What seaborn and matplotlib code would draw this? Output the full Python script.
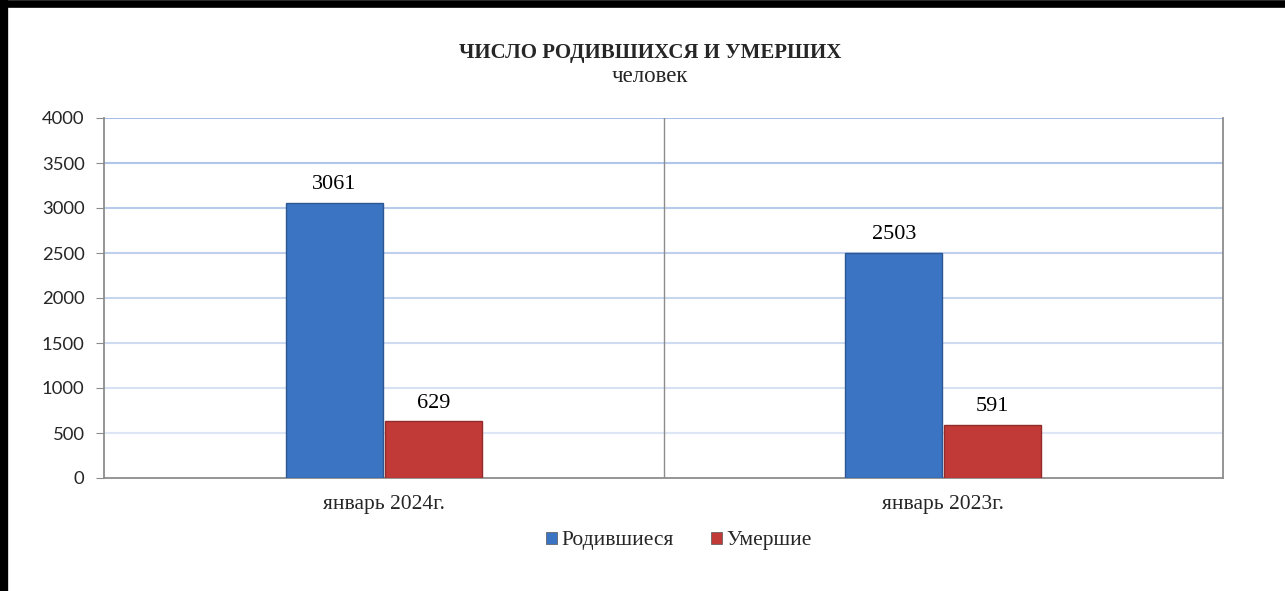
import pandas as pd
import numpy as np
import matplotlib.pyplot as plt
import seaborn as sns
from matplotlib.lines import Line2D

# data
periods = ["январь 2024г.", "январь 2023г."]
series = ["Родившиеся", "Умершие"]
born = [3061, 2503]
died = [629, 591]
y_ticks = [0, 500, 1000, 1500, 2000, 2500, 3000, 3500, 4000]

df = pd.DataFrame({
    "period": periods * 2,
    "series": [series[0]] * len(periods) + [series[1]] * len(periods),
    "value": born + died,
})

sns.set_style("white")
plt.rcParams['font.family'] = ['Liberation Serif', 'DejaVu Serif']

fig = plt.figure(figsize=(12.85, 5.91), dpi=100)
ax = fig.add_axes([104 / 1285, 1 - 478 / 591, (1223 - 104) / 1285, (478 - 118) / 591])

palette = {series[0]: "#3B74C2", series[1]: "#C23A38"}
sns.barplot(data=df, x="period", y="value", hue="series", order=periods,
            hue_order=series, palette=palette, width=0.354, gap=0.02,
            edgecolor="none", saturation=1, ax=ax, zorder=3)

# darker bar edges for a bit of depth
for p in ax.patches:
    fc = p.get_facecolor()
    p.set_edgecolor(tuple(c * 0.75 for c in fc[:3]))
    p.set_linewidth(1.0)

for cont in ax.containers:
    ax.bar_label(cont, padding=6, fontsize=16, color="black",
                 family=['Liberation Serif'])

ax.set_ylim(0, 4000)
ax.set_xlim(-0.5, 1.5)
ax.set_yticks(y_ticks)
ax.set_yticklabels([str(t) for t in y_ticks], family=['Lato', 'DejaVu Sans'], fontsize=13.3)
# gridlines fade from darker blue at the top to lighter at the bottom
grid_cols = plt.cm.colors.LinearSegmentedColormap.from_list("g", ["#DDE6F5", "#A9C0E6"])
for i, t in enumerate(y_ticks[1:]):
    ax.axhline(t, color=grid_cols(i / (len(y_ticks) - 2)), lw=1.5, zorder=1)
ax.axvline(0.5, color="#8C8C8C", lw=1.0, zorder=2)

ax.set_xticks([0, 1])
ax.set_xticklabels(periods, fontsize=15.5)
ax.set_xticks([-0.5, 0.5, 1.5], minor=True)
ax.tick_params(axis="x", which="major", length=0, pad=12)
ax.tick_params(axis="x", which="minor", length=6, color="#8C8C8C", direction="out")
ax.tick_params(axis="y", length=6, color="#8C8C8C", direction="out", left=True, pad=8)
ax.set_xlabel("")
ax.set_ylabel("")

for s in ["left", "bottom", "right"]:
    ax.spines[s].set_visible(True)
    ax.spines[s].set_color("#8C8C8C")
    ax.spines[s].set_linewidth(1.3)
ax.spines["top"].set_visible(False)

ax.get_legend().remove()
handles = [plt.Rectangle((0, 0), 1, 1, facecolor=palette[s], edgecolor="#555555", lw=0.5)
           for s in series]
fig.legend(handles, series, loc="center", bbox_to_anchor=(679 / 1285, 1 - 541 / 591),
           ncol=2, frameon=False, fontsize=15.5, handlelength=0.5, handleheight=0.5,
           handletextpad=0.2, columnspacing=1.75)

fig.text(650 / 1285, 1 - 53 / 591, "ЧИСЛО РОДИВШИХСЯ И УМЕРШИХ", ha="center",
         va="center", fontsize=15, fontweight="bold")
fig.text(650 / 1285, 1 - 76 / 591, "человек", ha="center", va="center", fontsize=16.5)

# black frame on top and left
fig.add_artist(Line2D([0, 1], [1 - 3.5 / 591] * 2, color="black", lw=5.5,
                      transform=fig.transFigure))
fig.add_artist(Line2D([4 / 1285] * 2, [0, 1], color="black", lw=6,
                      transform=fig.transFigure))

fig.savefig("out.png", dpi=100)
